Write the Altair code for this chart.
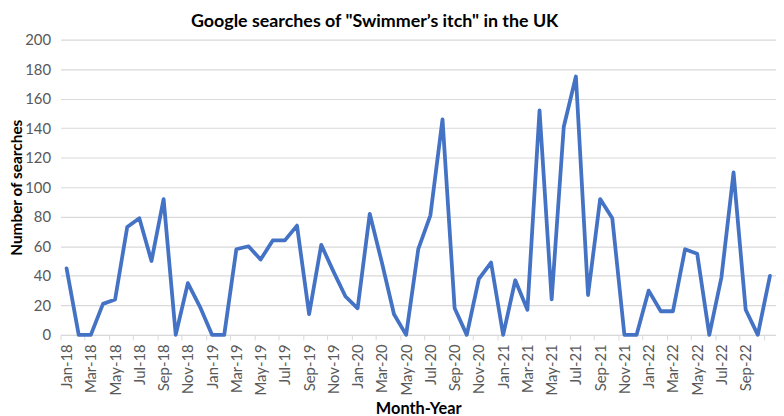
import altair as alt
import pandas as pd

# Month labels (Jan-18 .. Nov-22) and Google search counts
months = [
    "Jan-18", "Feb-18", "Mar-18", "Apr-18", "May-18", "Jun-18", "Jul-18", "Aug-18", "Sep-18", "Oct-18", "Nov-18", "Dec-18",
    "Jan-19", "Feb-19", "Mar-19", "Apr-19", "May-19", "Jun-19", "Jul-19", "Aug-19", "Sep-19", "Oct-19", "Nov-19", "Dec-19",
    "Jan-20", "Feb-20", "Mar-20", "Apr-20", "May-20", "Jun-20", "Jul-20", "Aug-20", "Sep-20", "Oct-20", "Nov-20", "Dec-20",
    "Jan-21", "Feb-21", "Mar-21", "Apr-21", "May-21", "Jun-21", "Jul-21", "Aug-21", "Sep-21", "Oct-21", "Nov-21", "Dec-21",
    "Jan-22", "Feb-22", "Mar-22", "Apr-22", "May-22", "Jun-22", "Jul-22", "Aug-22", "Sep-22", "Oct-22", "Nov-22",
]
searches = [
    45, 0, 0, 21, 24, 73, 79, 50, 92, 0, 35, 19,
    0, 0, 58, 60, 51, 64, 64, 74, 14, 61, 43, 26,
    18, 82, 49, 14, 0, 58, 81, 146, 18, 0, 38, 49,
    0, 37, 17, 152, 24, 141, 175, 27, 92, 79, 0, 0,
    30, 16, 16, 58, 55, 0, 39, 110, 17, 0, 40,
]
y_ticks = [0, 20, 40, 60, 80, 100, 120, 140, 160, 180, 200]
x_label_months = months[0::2]
hidden_labels = ["Nov-22"]

df = pd.DataFrame({"Month": months, "Searches": searches})

W = 722
H = 298
step = W / len(months)

FONT = "Lato"
GRID = "#d9d9d9"
LABEL = "#595959"

chart = (
    alt.Chart(df)
    .mark_line(color="#4472C4", strokeWidth=3.8, strokeJoin="round", strokeCap="round")
    .encode(
        x=alt.X(
            "Month:O",
            scale=alt.Scale(type="point", domain=months, padding=0.5),
            axis=alt.Axis(
                title="Month-Year",
                values=x_label_months,
                labelExpr="indexof(" + str(hidden_labels) + ", datum.value) >= 0 ? '' : datum.label",
                labelAngle=-90,
                labelFont=FONT,
                labelFontSize=15,
                labelColor=LABEL,
                labelPadding=4,
                labelOffset=step / 2,
                tickOffset=-step / 2,
                tickSize=5,
                tickColor=GRID,
                tickWidth=1,
                domainColor=GRID,
                domainWidth=1,
                grid=False,
                titleFont=FONT,
                titleFontSize=16.5,
                titleFontWeight="bold",
                titleColor="#000000",
                titleX=W / 2,
                titleY=74,
                titleAlign="center",
                titleBaseline="middle",
            ),
        ),
        y=alt.Y(
            "Searches:Q",
            scale=alt.Scale(domain=[0, 200], nice=False),
            axis=alt.Axis(
                title="Number of searches",
                values=y_ticks,
                labelFont=FONT,
                labelFontSize=15,
                labelColor=LABEL,
                labelPadding=10,
                ticks=False,
                tickSize=0,
                domain=False,
                grid=True,
                gridColor=GRID,
                gridWidth=1.2,
                titleFont=FONT,
                titleFontSize=15.5,
                titleFontWeight="bold",
                titleColor="#000000",
                titleAngle=-90,
                titleX=-44,
                titleY=H / 2,
                titleAlign="center",
                titleBaseline="middle",
            ),
        ),
    )
    .properties(
        width=W,
        height=H,
        title=alt.TitleParams(
            text="Google searches of \"Swimmer’s itch\" in the UK",
            font=FONT,
            fontSize=18,
            fontWeight="bold",
            color="#000000",
            anchor="middle",
            frame="group",
            dx=-44,
            baseline="top",
            offset=2,
        ),
        autosize=alt.AutoSizeParams(type="none"),
        padding={"left": 53, "top": 30, "right": 0, "bottom": 80},
    )
    .configure_view(stroke=None)
)

chart.save("out.html", embed_options={"renderer": "svg", "actions": False})
